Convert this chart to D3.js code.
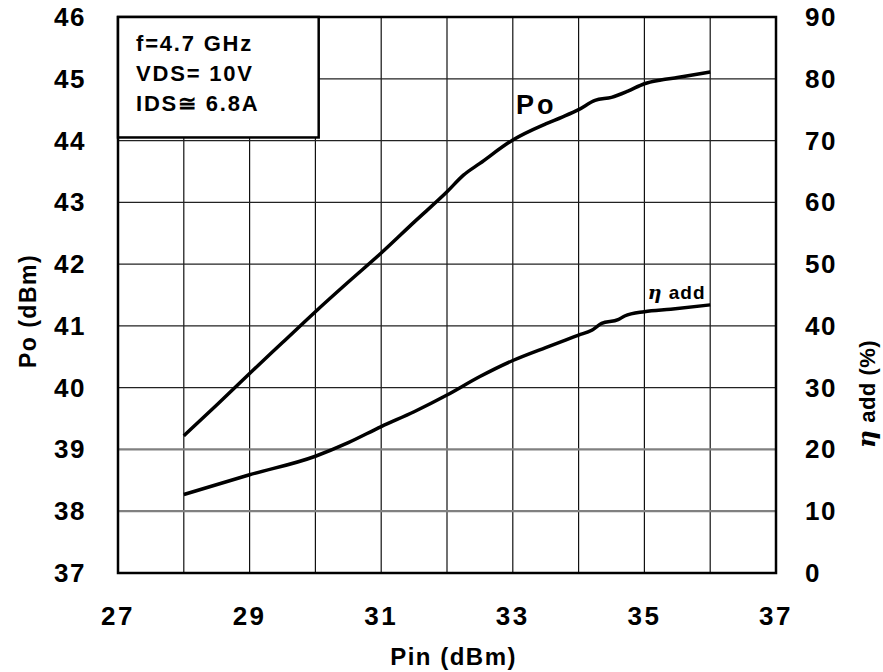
<!DOCTYPE html>
<html>
<head>
<meta charset="utf-8">
<script src="https://cdn.jsdelivr.net/npm/d3@7"></script>
<style>
  body { margin: 0; background: #fff; }
  text { font-family: "Liberation Sans", Arial, sans-serif; font-weight: bold; fill: #000; }
</style>
</head>
<body>
<div id="chart"></div>
<script>
// input power (dBm) and output power (dBm)
var poPin = [28, 28.5, 29, 29.5, 30, 30.5, 31, 31.5, 32, 32.25, 32.5, 33, 33.5, 33.75, 34, 34.25, 34.5, 34.75, 35, 35.25, 35.5, 36];
var poVal = [39.22, 39.72, 40.23, 40.73, 41.23, 41.71, 42.18, 42.68, 43.17, 43.44, 43.63, 44.01, 44.27, 44.38, 44.5, 44.65, 44.7, 44.8, 44.92, 44.98, 45.02, 45.11];

// power added efficiency (%)
var etaPin = [28, 29, 30, 30.5, 31, 31.5, 32, 32.5, 33, 33.5, 33.8, 34, 34.2, 34.35, 34.6, 34.7, 35, 35.4, 36];
var etaVal = [12.7, 15.9, 18.9, 21.1, 23.7, 26.1, 28.8, 31.8, 34.4, 36.5, 37.7, 38.5, 39.3, 40.4, 41.0, 41.6, 42.3, 42.7, 43.4];

var xTicks = [27, 29, 31, 33, 35, 37];
var yLeftTicks = [37, 38, 39, 40, 41, 42, 43, 44, 45, 46];
var yRightTicks = [0, 10, 20, 30, 40, 50, 60, 70, 80, 90];
var noteLines = ["f=4.7 GHz", "VDS= 10V", "IDS\u2245 6.8A"];

var W = 883, H = 672;
var margin = {top: 17, right: 107, bottom: 99, left: 118};
var width = W - margin.left - margin.right,
    height = H - margin.top - margin.bottom;

var svg = d3.select("#chart")
  .append("svg")
    .attr("width", W)
    .attr("height", H)
  .append("g")
    .attr("transform", "translate(" + margin.left + "," + margin.top + ")");

var x = d3.scaleLinear().domain([27, 37]).range([0, width]);
var yL = d3.scaleLinear().domain([37, 46]).range([height, 0]);
var yR = d3.scaleLinear().domain([0, 90]).range([height, 0]);

// grid
svg.append("g")
  .selectAll("line")
  .data(d3.range(28, 37))
  .enter().append("line")
    .attr("x1", function(d) { return x(d); })
    .attr("x2", function(d) { return x(d); })
    .attr("y1", 0).attr("y2", height)
    .attr("stroke", "#111").attr("stroke-width", 1.2);

svg.append("g")
  .selectAll("line")
  .data(d3.range(38, 46))
  .enter().append("line")
    .attr("x1", 0).attr("x2", width)
    .attr("y1", function(d) { return yL(d); })
    .attr("y2", function(d) { return yL(d); })
    .attr("stroke", function(d) { return d < 40 ? "#808080" : "#222"; })
    .attr("stroke-width", function(d) { return d < 40 ? 2.2 : 1.2; });

// curves
var line = function(xs, ys, ysc) {
  return d3.line()
    .curve(d3.curveMonotoneX)
    .x(function(d, i) { return x(xs[i]); })
    .y(function(d, i) { return ysc(ys[i]); })(xs);
};

svg.append("path")
  .attr("d", line(poPin, poVal, yL))
  .attr("fill", "none").attr("stroke", "#000").attr("stroke-width", 3.5);

svg.append("path")
  .attr("d", line(etaPin, etaVal, yR))
  .attr("fill", "none").attr("stroke", "#000").attr("stroke-width", 3.5);

// frame
svg.append("rect")
  .attr("width", width).attr("height", height)
  .attr("fill", "none").attr("stroke", "#000").attr("stroke-width", 2.5);

// note box
svg.append("rect")
  .attr("width", x(30.05) - x(27)).attr("height", yL(44.05) - yL(46))
  .attr("fill", "#fff").attr("stroke", "#000").attr("stroke-width", 2.5);

svg.append("g").selectAll("text")
  .data(noteLines)
  .enter().append("text")
    .attr("x", 18)
    .attr("y", function(d, i) { return 34 + i * 30; })
    .attr("font-size", 22)
    .attr("letter-spacing", 1.8)
    .text(function(d) { return d; });

// curve labels
svg.append("text")
  .attr("x", x(33.05)).attr("y", yL(44.43))
  .attr("font-size", 27).attr("letter-spacing", 3)
  .text("Po");

var eta = svg.append("text")
  .attr("x", x(35.05)).attr("y", yR(44.4))
  .attr("font-size", 19).attr("letter-spacing", 1);
eta.append("tspan").attr("font-style", "italic").attr("font-family", "DejaVu Serif").text("\u03b7");
eta.append("tspan").text(" add");

// tick labels
svg.append("g").selectAll("text")
  .data(xTicks)
  .enter().append("text")
    .attr("x", function(d) { return x(d); })
    .attr("y", height + 52)
    .attr("text-anchor", "middle")
    .attr("font-size", 26).attr("letter-spacing", 2.5)
    .text(function(d) { return d; });

svg.append("g").selectAll("text")
  .data(yLeftTicks)
  .enter().append("text")
    .attr("x", -32)
    .attr("y", function(d) { return yL(d) + 9; })
    .attr("text-anchor", "end")
    .attr("font-size", 26).attr("letter-spacing", 1.5)
    .text(function(d) { return d; });

svg.append("g").selectAll("text")
  .data(yRightTicks)
  .enter().append("text")
    .attr("x", width + 29)
    .attr("y", function(d) { return yR(d) + 9; })
    .attr("text-anchor", "start")
    .attr("font-size", 26).attr("letter-spacing", 1.5)
    .text(function(d) { return d; });

// axis titles
svg.append("text")
  .attr("x", x(32.1)).attr("y", height + 92)
  .attr("text-anchor", "middle")
  .attr("font-size", 24).attr("letter-spacing", 1.5)
  .text("Pin (dBm)");

svg.append("text")
  .attr("transform", "translate(" + (-82) + "," + (height / 2 + 16) + ") rotate(-90)")
  .attr("text-anchor", "middle")
  .attr("font-size", 23).attr("letter-spacing", 1.5)
  .text("Po (dBm)");

var rt = svg.append("text")
  .attr("transform", "translate(" + (width + 99) + "," + (height / 2 + 99) + ") rotate(-90)")
  .attr("text-anchor", "middle")
  .attr("font-size", 22).attr("letter-spacing", 0.5);
rt.append("tspan").attr("font-style", "italic").attr("font-family", "DejaVu Serif").attr("font-size", 25).text("\u03b7");
rt.append("tspan").text(" add (%)");
</script>
</body>
</html>
